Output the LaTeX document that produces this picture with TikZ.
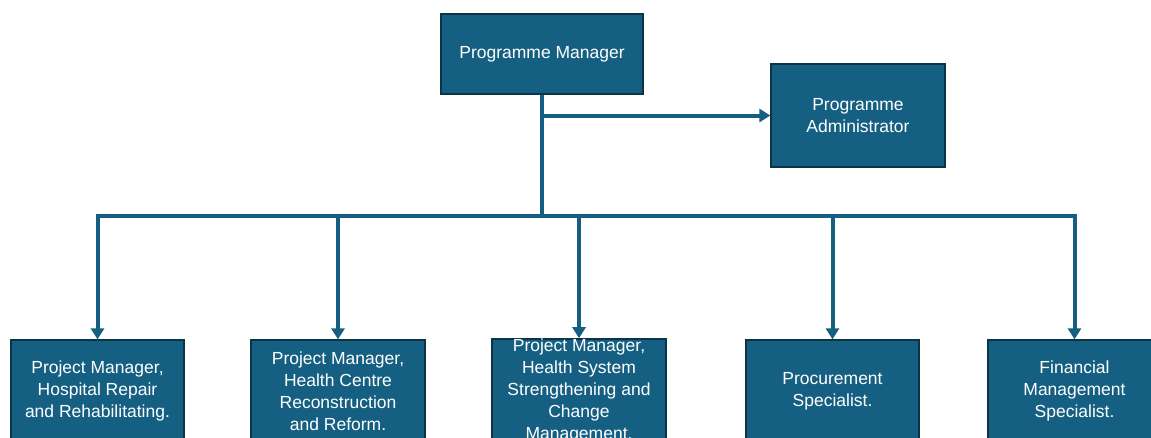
\documentclass[tikz,border=0pt]{standalone}
\usepackage{fontspec}
\setmainfont{Liberation Sans}
\usetikzlibrary{arrows.meta}
\definecolor{boxfill}{HTML}{156082}
\definecolor{boxline}{HTML}{0C3447}
\definecolor{conn}{HTML}{156082}
\begin{document}
\begin{tikzpicture}[x=1pt,y=-1pt,
  orgbox/.style={draw=boxline, line width=1.3pt, fill=boxfill, text=white,
    inner sep=0pt, align=center, font=\fontsize{17.5}{22}\selectfont},
  wire/.style={draw=conn, line width=4pt, line join=miter},
  arr/.style={wire, -{Triangle[width=13pt,length=11pt]}}]
\useasboundingbox (0,0) rectangle (1151,437);
\clip (0,0) rectangle (1151,437);
\node[orgbox, minimum width=202pt, minimum height=80pt] (pm) at (542,54) {Programme Manager};
\node[orgbox, minimum width=174pt, minimum height=103pt] (pa) at (858,115.5) {Programme\\Administrator};
\node[orgbox, minimum width=173pt, minimum height=102pt] (b1) at (97.5,391) {Project Manager,\\Hospital Repair\\and Rehabilitating.};
\node[orgbox, minimum width=174pt, minimum height=102pt] (b2) at (338,391) {Project Manager,\\Health Centre\\Reconstruction\\and Reform.};
\node[orgbox, minimum width=174pt, minimum height=102pt] (b3) at (579,391) {Project Manager,\\Health System\\Strengthening and\\Change\\Management.};
\node[orgbox, minimum width=173pt, minimum height=102pt] (b4) at (832.5,391) {Procurement\\Specialist.};
\node[orgbox, minimum width=173pt, minimum height=102pt] (b5) at (1074.5,391) {Financial\\Management\\Specialist.};
\coordinate (bus) at (542,216);
\draw[wire] (pm.south) -- (bus);
\draw[arr] (pm.south) |- (pa.west);
\draw[arr] (bus) -| (b1.north);
\draw[arr] (bus) -| (b2.north);
\draw[arr] (bus) -| (b3.north);
\draw[arr] (bus) -| (b4.north);
\draw[arr] (bus) -| (b5.north);
\end{tikzpicture}
\end{document}
